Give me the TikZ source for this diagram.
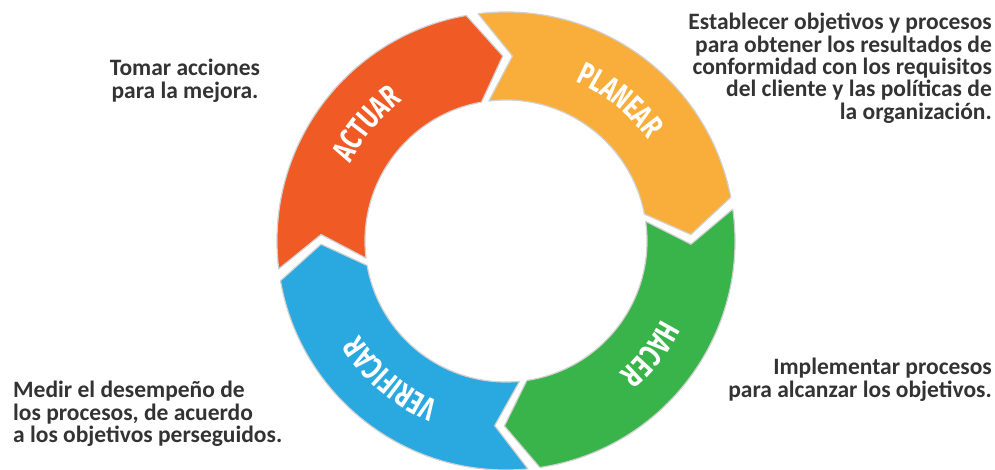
\documentclass[tikz,border=0pt]{standalone}
\usepackage{fontspec}
\setmainfont{Carlito}
\newfontfamily\labelfont[FakeStretch=0.72]{Fira Sans}
\usetikzlibrary{decorations.text}
\definecolor{cActuar}{HTML}{F05A24}
\definecolor{cPlanear}{HTML}{F9AE3B}
\definecolor{cHacer}{HTML}{39B44A}
\definecolor{cVerificar}{HTML}{29A9E0}
\definecolor{txt}{HTML}{333333}
\newcommand\ringseg[3]{%
  \fill[#1, draw=black!18, line width=1.2pt, line join=round]
    ({#2}:229) arc[start angle={#2}, end angle={#3}, radius=229]
    -- ({#3-9}:185) -- ({#3}:141)
    arc[start angle={#3}, end angle={#2}, radius=141]
    -- ({#2-9}:185) -- cycle;}
\newcommand\ringlabel[3]{%
  \path[decorate, decoration={text along path, text align=center,
      text color=white, text={|\labelfont\bfseries\fontsize{32}{34}\selectfont|#1}}]
    ({#2}:174) arc[start angle={#2}, end angle={#3}, radius=174];}
\tikzset{
  desc/.style={inner sep=0pt, text=txt, font=\bfseries\fontsize{23.5}{22.4}\selectfont}
}
\begin{document}
\begin{tikzpicture}[x=1pt,y=1pt]
\useasboundingbox (0,0) rectangle (995,470);
\begin{scope}[shift={(506,229)}]
  \ringseg{cActuar}{187}{100}
  \ringseg{cPlanear}{97}{11}
  \ringseg{cHacer}{8}{-81.5}
  \ringseg{cVerificar}{-84.5}{-170}
  \ringlabel{ACTUAR}{170}{110}
  \ringlabel{PLANEAR}{81}{21}
  \ringlabel{HACER}{-8}{-68}
  \ringlabel{VERIFICAR}{-100}{-160}
\end{scope}
\node[desc, anchor=north east, align=right] (plan) at (992,457)
  {Establecer objetivos y procesos\\para obtener los resultados de\\conformidad con los requisitos\\del cliente y las políticas de\\la organización.};
\node[desc, anchor=north, align=center] (act) at (185,411)
  {Tomar acciones\\para la mejora.};
\node[desc, anchor=north west, align=left] (ver) at (13,89)
  {Medir el desempeño de\\los procesos, de acuerdo\\a los objetivos perseguidos.};
\node[desc, anchor=north east, align=right] (hac) at (992,112)
  {Implementar procesos\\para alcanzar los objetivos.};
\end{tikzpicture}
\end{document}
